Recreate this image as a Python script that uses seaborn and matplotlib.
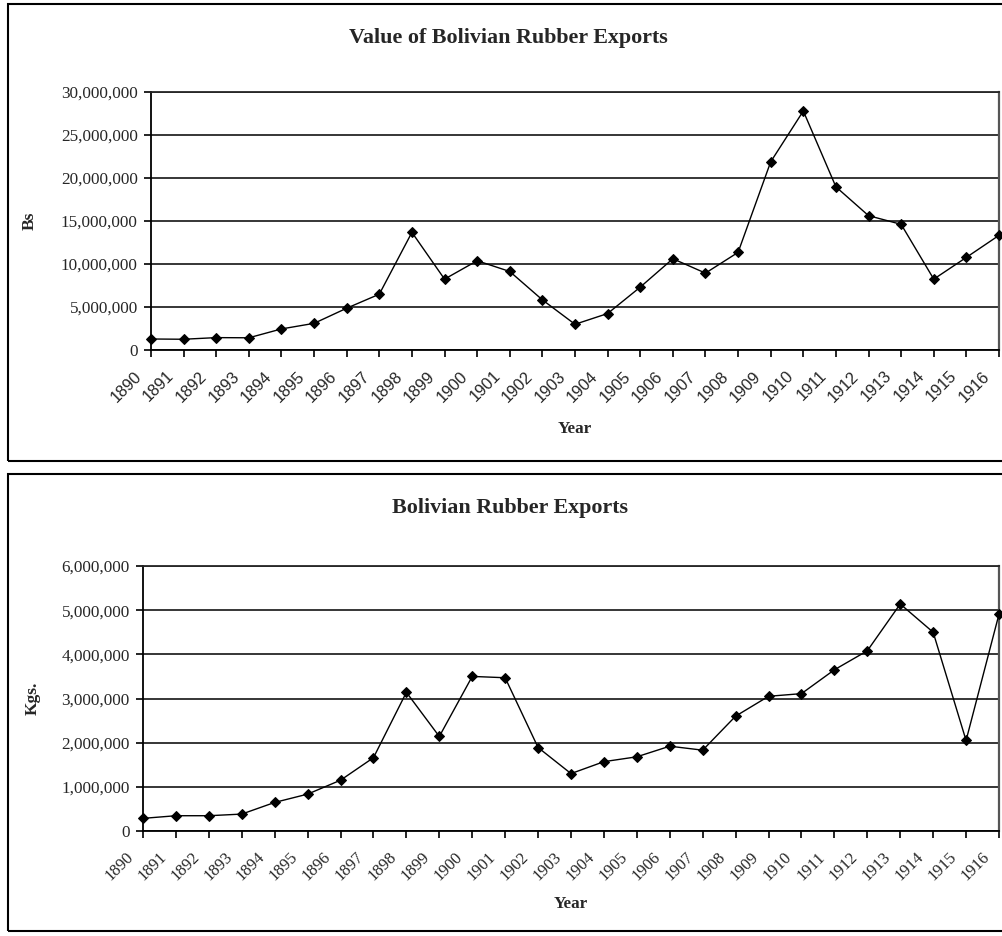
import matplotlib
matplotlib.use("Agg")
import matplotlib.pyplot as plt
import matplotlib.transforms as mtransforms
from matplotlib.patches import Rectangle
from matplotlib.ticker import FuncFormatter
import seaborn as sns

# Annual series, 1890-1916
years = list(range(1890, 1917))
value_bs = [1280000, 1250000, 1440000, 1420000, 2450000, 3100000, 4860000,
            6490000, 13680000, 8240000, 10380000, 9130000, 5830000, 2990000,
            4240000, 7310000, 10610000, 8940000, 11350000, 21880000, 27790000,
            18970000, 15620000, 14610000, 8240000, 10770000, 13330000]
weight_kgs = [286000, 346000, 346000, 383000, 647000, 835000, 1150000,
              1660000, 3140000, 2140000, 3500000, 3470000, 1890000, 1300000,
              1570000, 1680000, 1920000, 1830000, 2600000, 3050000, 3110000,
              3650000, 4080000, 5140000, 4500000, 2050000, 4910000]

top_title = "Value of Bolivian Rubber Exports"
bottom_title = "Bolivian Rubber Exports"
top_ylabel = "Bs"
bottom_ylabel = "Kgs."
xlabel = "Year"
top_yticks = [0, 5000000, 10000000, 15000000, 20000000, 25000000, 30000000]
bottom_yticks = [0, 1000000, 2000000, 3000000, 4000000, 5000000, 6000000]

sns.set_style("white")
plt.rcParams["font.family"] = ["Liberation Serif", "DejaVu Serif"]

W, H = 1002, 936
fig = plt.figure(figsize=(W / 100, H / 100), dpi=100)


def px_axes(left, top, right, bottom):
    return fig.add_axes([left / W, 1 - bottom / H, (right - left) / W, (bottom - top) / H])


def frame(top, bottom):
    fig.add_artist(Rectangle((7.5 / W, 1 - bottom / H), (1030 - 7.5) / W,
                             (bottom - top) / H, transform=fig.transFigure,
                             fill=False, lw=1.5, ec="black", zorder=0))


comma = FuncFormatter(lambda v, p: f"{v:,.0f}")


def draw_panel(ax, values, yticks, ylab, title, title_xy, tick_family,
               tick_size, ylab_x, xlab_y):
    sns.lineplot(x=years, y=values, ax=ax, color="black", linewidth=1.0,
                 marker="D", markersize=5.6, markeredgecolor="black",
                 markerfacecolor="black", clip_on=False, zorder=5)
    ax.set_xlim(years[0], years[-1])
    ax.set_ylim(yticks[0], yticks[-1])
    ax.set_yticks(yticks)
    ax.yaxis.set_major_formatter(comma)
    ax.set_xticks(years)
    ax.set_xticklabels([str(y) for y in years], family=tick_family,
                       fontsize=tick_size, rotation=45, ha="right", va="center",
                       rotation_mode="anchor")
    ax.tick_params(axis="y", direction="out", length=5, width=1.2,
                   labelsize=12.3, pad=4.5, color="black", left=True)
    ax.tick_params(axis="x", direction="out", length=5, width=1.2,
                   pad=12, color="black", bottom=True)
    shift = mtransforms.ScaledTranslation(-12 / 100, 0, fig.dpi_scale_trans)
    for lab in ax.get_xticklabels():
        lab.set_transform(lab.get_transform() + shift)
    ax.grid(axis="y", color="#262626", linewidth=1.3)
    ax.grid(axis="x", visible=False)
    ax.set_axisbelow(True)
    for side in ("left", "bottom"):
        ax.spines[side].set_color("black")
        ax.spines[side].set_linewidth(1.3)
    ax.spines["top"].set_color("#262626")
    ax.spines["top"].set_linewidth(1.3)
    ax.spines["right"].set_color("#555555")
    ax.spines["right"].set_linewidth(1.6)
    ax.set_ylabel(ylab, fontsize=12.5, fontweight="bold")
    ax.yaxis.set_label_coords(ylab_x, 0.5)
    ax.set_xlabel(xlabel, fontsize=12.3, fontweight="bold", va="center")
    ax.xaxis.set_label_coords(0.5, xlab_y)
    fig.text(title_xy[0] / W, 1 - title_xy[1] / H, title, fontsize=15.8,
             fontweight="bold", ha="center", va="baseline")


frame(4.5, 460.5)
frame(474, 930.5)

ax1 = px_axes(151, 92, 999, 350)
draw_panel(ax1, value_bs, top_yticks, top_ylabel, top_title, (508, 43),
           ["Liberation Sans", "DejaVu Sans"], 11.8,
           (38 - 151) / 848, (350 - 429) / 258)

ax2 = px_axes(143, 566, 999, 831)
draw_panel(ax2, weight_kgs, bottom_yticks, bottom_ylabel, bottom_title, (510, 513),
           ["Liberation Serif", "DejaVu Serif"], 12.0,
           (41 - 143) / 856, (831 - 904) / 265)

fig.savefig("out.png", dpi=100, facecolor="white")
